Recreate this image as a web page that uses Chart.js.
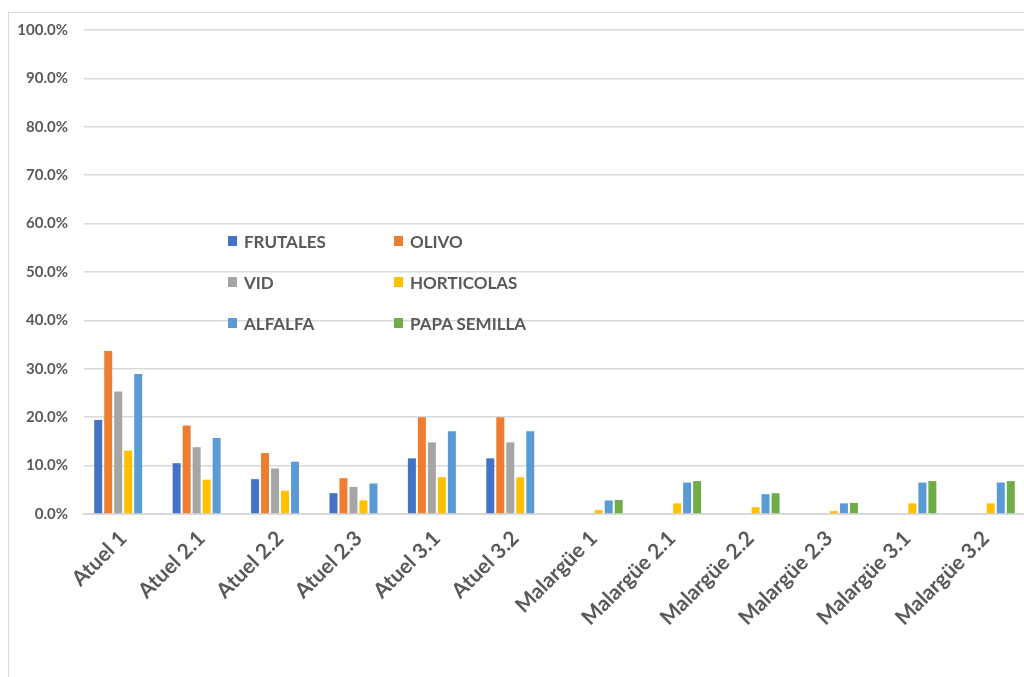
<!DOCTYPE html>
<html>
<head>
<meta charset="utf-8">
<script src="https://cdn.jsdelivr.net/npm/chart.js@4"></script>
<style>
  html, body { margin: 0; padding: 0; background: #fff; overflow: hidden; }
  #marco {
    position: absolute; left: 8px; top: 12px; width: 1030px; height: 680px;
    border: 1px solid #d9d9d9; box-sizing: border-box;
  }
  #contenedor { position: absolute; left: 0; top: 0; width: 1025px; height: 677px; }
  #leyenda {
    position: absolute; left: 228px; top: 231px; width: 340px;
    display: grid; grid-template-columns: 166px 170px; row-gap: 21px;
    font-family: Lato, "Open Sans", sans-serif; font-weight: bold; font-size: 17px; color: #595959;
  }
  #leyenda span.item { display: flex; align-items: center; height: 20px; }
  #leyenda span.caja { width: 9px; height: 10px; margin-right: 7px; display: inline-block; }
</style>
</head>
<body>
<div id="marco"></div>
<div id="contenedor"><canvas id="graficoCultivos"></canvas></div>
<div id="leyenda"></div>
<script>
const zonas = ['Atuel 1', 'Atuel 2.1', 'Atuel 2.2', 'Atuel 2.3', 'Atuel 3.1', 'Atuel 3.2',
  'Malargüe 1', 'Malargüe 2.1', 'Malargüe 2.2', 'Malargüe 2.3', 'Malargüe 3.1', 'Malargüe 3.2'];

// porcentajes por cultivo y zona
const frutales   = [19.4, 10.5, 7.2, 4.3, 11.5, 11.5, 0, 0, 0, 0, 0, 0];
const olivo      = [33.7, 18.3, 12.6, 7.4, 20.0, 20.0, 0, 0, 0, 0, 0, 0];
const vid        = [25.3, 13.8, 9.4, 5.6, 14.8, 14.8, 0, 0, 0, 0, 0, 0];
const horticolas = [13.1, 7.1, 4.8, 2.8, 7.6, 7.6, 0.8, 2.2, 1.4, 0.6, 2.2, 2.2];
const alfalfa    = [28.9, 15.7, 10.8, 6.3, 17.1, 17.1, 2.8, 6.5, 4.1, 2.2, 6.5, 6.5];
const papaSemilla = [0, 0, 0, 0, 0, 0, 2.9, 6.8, 4.3, 2.3, 6.8, 6.8];

const cultivos = [
  { label: 'FRUTALES', data: frutales, color: '#4472C4' },
  { label: 'OLIVO', data: olivo, color: '#ED7D31' },
  { label: 'VID', data: vid, color: '#A5A5A5' },
  { label: 'HORTICOLAS', data: horticolas, color: '#FFC000' },
  { label: 'ALFALFA', data: alfalfa, color: '#5B9BD5' },
  { label: 'PAPA SEMILLA', data: papaSemilla, color: '#70AD47' }
];

const gris = '#595959';
const fuente = 'Lato, "Open Sans", sans-serif';

const ctx = document.getElementById('graficoCultivos').getContext('2d');

new Chart(ctx, {
  type: 'bar',
  data: {
    labels: zonas,
    datasets: cultivos.map(c => ({
      label: c.label,
      data: c.data,
      backgroundColor: c.color,
      borderWidth: 0,
      categoryPercentage: 0.765,
      barPercentage: 0.8
    }))
  },
  options: {
    responsive: true,
    maintainAspectRatio: false,
    animation: false,
    layout: { padding: { top: 30, right: 0, left: 0, bottom: 0 } },
    plugins: {
      legend: { display: false },
      tooltip: { enabled: false }
    },
    scales: {
      x: {
        grid: { display: false, drawTicks: false },
        border: { color: '#d9d9d9', width: 2 },
        ticks: {
          color: gris,
          minRotation: 45,
          maxRotation: 45,
          padding: 12,
          font: { family: fuente, size: 21, weight: 'bold' }
        },
        afterFit: scale => { scale.height = 163; }
      },
      y: {
        min: 0,
        max: 100,
        grid: { color: '#d9d9d9', lineWidth: 1.5, drawTicks: false },
        border: { display: false },
        ticks: {
          stepSize: 10,
          color: gris,
          padding: 16,
          font: { family: fuente, size: 15, weight: 'bold' },
          callback: v => v.toFixed(1) + '%'
        },
        afterFit: scale => { scale.width = 84; }
      }
    }
  }
});

// leyenda en dos columnas dentro del área del gráfico
const leyenda = document.getElementById('leyenda');
cultivos.forEach(c => {
  const item = document.createElement('span');
  item.className = 'item';
  const caja = document.createElement('span');
  caja.className = 'caja';
  caja.style.background = c.color;
  item.appendChild(caja);
  item.appendChild(document.createTextNode(c.label));
  leyenda.appendChild(item);
});
</script>
</body>
</html>
